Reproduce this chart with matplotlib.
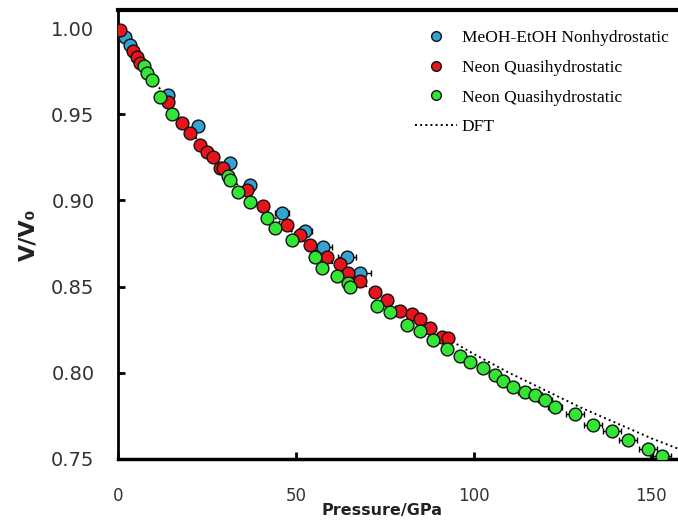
import matplotlib.pyplot as plt
from matplotlib.lines import Line2D

# Дані (тиск у ГПа, V/V0)
blue_p = [2.0, 3.4, 14.1, 22.5, 31.5, 37.1, 46.1, 52.6, 57.7, 64.4, 68.1]
blue_v = [0.995, 0.990, 0.961, 0.943, 0.922, 0.909, 0.893, 0.882, 0.873, 0.867, 0.858]
blue_err = [0.5, 0.5, 1.0, 1.0, 1.5, 1.5, 2.0, 2.0, 2.5, 2.5, 3.0]

red_p = [0.5, 4.2, 5.3, 6.2, 14.1, 18.0, 20.3, 23.1, 25.0, 26.7, 28.7, 29.5,
         36.3, 40.8, 47.5, 51.2, 54.0, 58.8, 62.4, 64.7, 68.1, 72.3, 75.7,
         79.3, 82.7, 85.0, 87.8, 91.1, 92.8]
red_v = [0.999, 0.987, 0.983, 0.980, 0.957, 0.945, 0.939, 0.932, 0.928, 0.925,
         0.919, 0.919, 0.906, 0.897, 0.886, 0.880, 0.874, 0.867, 0.863, 0.858,
         0.853, 0.847, 0.842, 0.836, 0.834, 0.831, 0.826, 0.821, 0.820]

green_p = [7.3, 8.2, 9.6, 11.8, 15.2, 30.9, 31.5, 33.8, 37.1, 41.9, 44.2, 48.9,
           55.4, 57.4, 61.6, 64.7, 65.3, 72.9, 76.5, 81.3, 84.9, 88.6, 92.5,
           96.2, 99.0, 102.7, 106.0, 108.3, 111.1, 114.5, 117.3, 120.1, 122.9,
           128.6, 133.6, 139.0, 143.5, 149.1, 152.9]
green_v = [0.978, 0.974, 0.970, 0.960, 0.950, 0.914, 0.912, 0.905, 0.899, 0.890,
           0.884, 0.877, 0.867, 0.861, 0.856, 0.852, 0.850, 0.839, 0.835, 0.828,
           0.824, 0.819, 0.814, 0.810, 0.806, 0.803, 0.799, 0.795, 0.792, 0.789,
           0.787, 0.784, 0.780, 0.776, 0.770, 0.766, 0.761, 0.756, 0.752]
green_err = [0.3] * 17 + [1.0] * 12 + [2.0] * 4 + [2.5] * 6

dft_p = [0, 10, 20, 30, 40, 50, 60, 70, 80, 90, 100, 110, 120, 130, 140, 150, 160]
dft_v = [1.000, 0.970, 0.941, 0.916, 0.897, 0.880, 0.864, 0.850, 0.836, 0.823,
         0.811, 0.800, 0.790, 0.780, 0.771, 0.762, 0.754]

labels = ['MeOH-EtOH Nonhydrostatic', 'Neon Quasihydrostatic', 'Neon Quasihydrostatic', 'DFT']
colors = ['#35a2d2', '#e8141c', '#33e633']

fig = plt.figure(figsize=(6.78, 5.25), dpi=100)
ax = fig.add_axes([118 / 678, 1 - 459 / 525, 1 - 118 / 678, (459 - 10) / 525])

ax.plot(dft_p, dft_v, linestyle=':', color='black', linewidth=1.4, zorder=1)

mk = dict(fmt='o', markersize=9.2, markeredgecolor='#111111', markeredgewidth=1.0,
          ecolor='black', elinewidth=1.0, capsize=2.5, zorder=3)
ax.errorbar(blue_p, blue_v, xerr=blue_err, markerfacecolor=colors[0], **mk)
ax.errorbar(red_p, red_v, markerfacecolor=colors[1], **mk)
ax.errorbar(green_p, green_v, xerr=green_err, markerfacecolor=colors[2], **mk)

ax.set_xlim(0, 157.5)
ax.set_ylim(0.75, 1.0105)
ax.set_xticks([0, 50, 100, 150])
ax.set_yticks([0.75, 0.80, 0.85, 0.90, 0.95, 1.00])
ax.set_yticklabels(['0.75', '0.80', '0.85', '0.90', '0.95', '1.00'])

ax.spines['right'].set_visible(False)
ax.spines['top'].set_linewidth(3)
ax.spines['left'].set_linewidth(2)
ax.spines['bottom'].set_linewidth(2.5)
ax.tick_params(direction='in', length=5, width=2, colors='black')
ax.tick_params(axis='y', pad=17, labelsize=14)
ax.tick_params(axis='x', pad=20, labelsize=12)
for lbl in ax.get_xticklabels() + ax.get_yticklabels():
    lbl.set_color('#333333')

ax.set_xlabel('Pressure/GPa', fontsize=11.5, fontweight='bold', color='#222222')
ax.xaxis.set_label_coords((382 - 118) / 560, -0.097)
ax.set_ylabel('V/V₀', fontsize=16, fontweight='bold', color='#222222')
ax.yaxis.set_label_coords(-0.143, 0.5)

# Легенда: лише маркери без похибок
handles = [Line2D([], [], linestyle='none', marker='o', markersize=7,
                  markerfacecolor=c, markeredgecolor='#111111', markeredgewidth=1.0)
           for c in colors]
handles.append(Line2D([], [], linestyle=':', color='black', linewidth=1.4))
fig.legend(handles=handles, labels=labels,
           loc='upper left', bbox_to_anchor=(415 / 678, 1 - 30 / 525),
           frameon=False, borderpad=0, borderaxespad=0,
           handlelength=2.4, handletextpad=0.3, labelspacing=0.78,
           prop={'family': 'Liberation Serif', 'size': 12.5})

fig.savefig('out.png', dpi=100)
